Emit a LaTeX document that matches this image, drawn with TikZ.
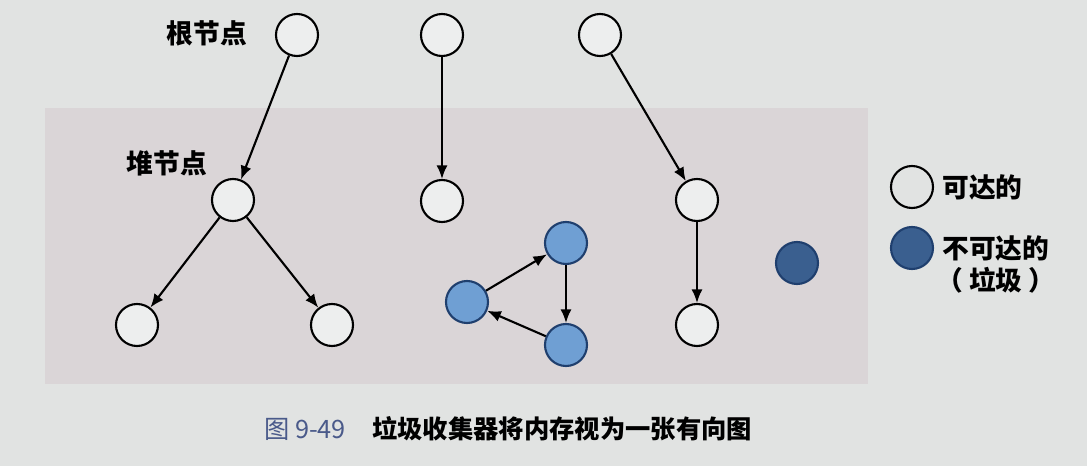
\documentclass[tikz,border=0pt]{standalone}
\usepackage{fontspec}
\newfontfamily\cjk{Noto Sans CJK SC}
\usetikzlibrary{arrows, arrows.meta, shapes, positioning}
\definecolor{paper}{HTML}{E1E3E2}
\definecolor{heapbg}{HTML}{DAD5D7}
\definecolor{garb}{HTML}{6F9FD3}
\definecolor{garbline}{HTML}{1F3F6E}
\definecolor{garbdark}{HTML}{3A5F8F}
\definecolor{capblue}{HTML}{4A5A8A}
\newlength{\pxu}
\setlength{\pxu}{0.025cm}
\tikzstyle{n}=[circle, draw=black, line width=1.5pt, fill=paper!60!white, minimum size=42\pxu, inner sep=0pt]
\tikzstyle{g}=[circle, draw=garbline, line width=1.5pt, fill=garb, minimum size=42\pxu, inner sep=0pt]
\tikzstyle{gd}=[circle, draw=garbline, line width=1.5pt, fill=garbdark, minimum size=42\pxu, inner sep=0pt]
\tikzstyle{lbl}=[font=\cjk\bfseries\fontsize{19}{21}\selectfont, inner sep=0pt]
\tikzstyle{ptr}=[-{Latex[length=3.4mm,width=2.8mm]}, line width=1.5pt]
\begin{document}
\begin{tikzpicture}[x=0.025cm, y=-0.025cm]
 % page and heap area
 \fill[paper] (0,0) rectangle (1087,466);
 \useasboundingbox (0,0) rectangle (1087,466);
 \fill[heapbg] (45,108) rectangle (868,384);

 % root nodes
 \node[n] (r1) at (297,35) {};
 \node[n] (r2) at (442,35) {};
 \node[n] (r3) at (600,35) {};
 \node[lbl] (rootlbl) at (207,33) {根节点};

 % heap nodes
 \node[n] (h1) at (233,200) {};
 \node[n] (h2) at (442,201) {};
 \node[n] (h3) at (697,200) {};
 \node[n] (l1) at (137,325) {};
 \node[n] (l2) at (332,325) {};
 \node[n] (l3) at (697,325) {};
 \node[lbl] (heaplbl) at (167,163) {堆节点};

 % garbage
 \node[g] (gt) at (566,243) {};
 \node[g] (gl) at (467,302) {};
 \node[g] (gb) at (566,345) {};
 \node[gd] (gx) at (797,263) {};

 \draw[ptr] (r1) -- (h1);
 \draw[ptr] (h1) -- (l1);
 \draw[ptr] (h1) -- (l2);
 \draw[ptr] (r2) -- (h2);
 \draw[ptr] (r3) -- (h3);
 \draw[ptr] (h3) -- (l3);
 \draw[ptr] (gl) -- (gt);
 \draw[ptr] (gt) -- (gb);
 \draw[ptr] (gb) -- (gl);

 % legend
 \node[n, fill=paper] (key1) at (912,187) {};
 \node[lbl, right=8\pxu of key1] (key1lbl) {可达的};
 \node[gd] (key2) at (912,248) {};
 \node[lbl, right=8\pxu of key2] (key2lbl) {不可达的};
 \node[lbl, below=6\pxu of key2lbl] (key2sub) {（ 垃圾 ）};

 % caption
 \node[font=\cjk\fontsize{18}{20}\selectfont, text=capblue, inner sep=0pt] (capno) at (305,429) {图 9-49};
 \node[font=\cjk\bfseries\fontsize{18}{20}\selectfont, inner sep=0pt, anchor=west] (captxt) at (372,429) {垃圾收集器将内存视为一张有向图};
\end{tikzpicture}
\end{document}
